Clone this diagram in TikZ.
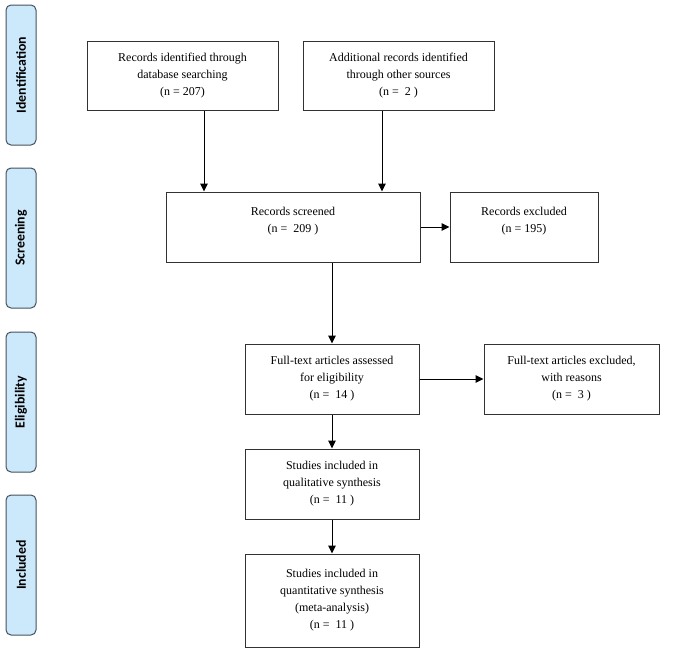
\documentclass[tikz,border=0pt]{standalone}
\usepackage{fontspec}
\setmainfont{Liberation Serif}
\newfontfamily\labfont{Carlito}
\usetikzlibrary{arrows.meta}
\definecolor{phasefill}{RGB}{204,233,251}
\definecolor{phasedraw}{RGB}{70,80,92}
\definecolor{boxdraw}{RGB}{50,50,50}
\begin{document}
\begin{tikzpicture}[x=1pt,y=-1pt,
  phase/.style={draw=phasedraw,fill=phasefill,rounded corners=5pt,line width=1pt,
    minimum width=140pt,minimum height=30pt,rotate=90,inner sep=0pt,
    font=\labfont\bfseries\fontsize{13.8}{16}\selectfont},
  box/.style={draw=boxdraw,line width=1pt,inner sep=0pt,align=center,
    font=\fontsize{12}{17}\selectfont},
  toptext/.style={font=\fontsize{12}{17}\selectfont,align=center,anchor=north,inner sep=0pt},
  arr/.style={draw=black,line width=1pt,-{Triangle[length=8pt,width=7.5pt]}}]
\useasboundingbox (0,0) rectangle (700,653);
% phase labels
\node[phase] (pid) at (21,75) {Identification};
\node[phase] (psc) at (21,238) {Screening};
\node[phase] (pel) at (21,402) {Eligibility};
\node[phase] (pin) at (21,565) {Included};
% boxes
\node[box,minimum width=191pt,minimum height=69pt] (A) at (182.5,75.5)
  {Records identified through\\database searching\\(n = 207)};
\node[box,minimum width=191pt,minimum height=69pt] (B) at (398.5,75.5)
  {Additional records identified\\through other sources\\(n =\ \ 2 )};
\node[box,minimum width=254pt,minimum height=70pt] (S) at (293,227) {};
\node[toptext] (St) at ([yshift=-15pt]S.north) {Records screened\\(n =\ \ 209 )};
\node[box,minimum width=148pt,minimum height=70pt] (E) at (524,227) {};
\node[toptext] (Et) at ([yshift=-15pt]E.north) {Records excluded\\(n = 195)};
\node[box,minimum width=174pt,minimum height=70pt] (F) at (332,379)
  {Full-text articles assessed\\for eligibility\\(n =\ \ 14 )};
\node[box,minimum width=175pt,minimum height=70pt] (G) at (571.5,379)
  {Full-text articles excluded,\\with reasons\\(n =\ \ 3 )};
\node[box,minimum width=174pt,minimum height=70pt] (Q) at (332,484)
  {Studies included in\\qualitative synthesis\\(n =\ \ 11 )};
\node[box,minimum width=174pt,minimum height=93pt] (M) at (332,600.5)
  {Studies included in\\quantitative synthesis\\(meta-analysis)\\(n =\ \ 11 )};
% connectors
\coordinate (a1) at ([xshift=21.5pt]A.south);
\coordinate (b1) at ([xshift=-16.5pt]B.south);
\draw[arr] (a1) -- (a1 |- S.north);
\draw[arr] (b1) -- (b1 |- S.north);
\draw[arr] (S.east) -- (E.west);
\draw[arr] (F.north |- S.south) -- (F.north);
\draw[arr] (F.east) -- (G.west);
\draw[arr] (F.south) -- (Q.north);
\draw[arr] (Q.south) -- (M.north);
\end{tikzpicture}
\end{document}
